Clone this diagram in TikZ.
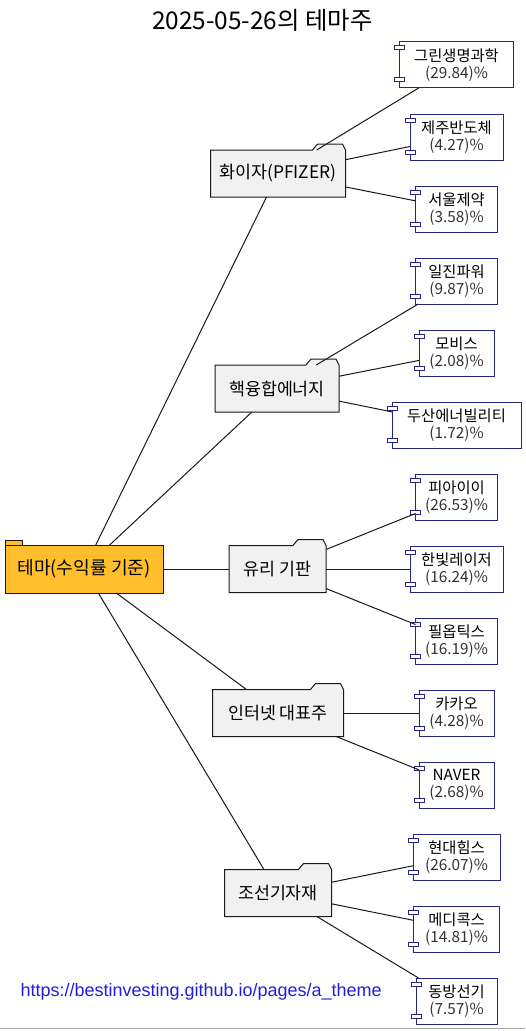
\documentclass[tikz,border=0pt]{standalone}
\usepackage{fontspec}
\setmainfont{Noto Sans CJK KR}
\newfontfamily\urlfont{Liberation Sans}
\usetikzlibrary{calc,backgrounds}
\definecolor{rootfill}{HTML}{FFBF2C}
\definecolor{themefill}{HTML}{F1F1F1}
\definecolor{compline}{HTML}{262680}
\definecolor{urlblue}{HTML}{1E1EDC}
\definecolor{pcttext}{HTML}{333333}
\begin{document}
\begin{tikzpicture}[x=0.75pt, y=-0.75pt, line width=0.75pt,
  base/.style={inner sep=0pt, outer sep=0pt},
  rootbox/.style={base, draw=black!90, fill=rootfill, minimum width={0.75pt*158}, minimum height={0.75pt*48}, font=\fontsize{13.6}{15}\selectfont},
  theme/.style={base, minimum width={0.75pt*#1}, minimum height={0.75pt*47}, font=\fontsize{13}{15}\selectfont},
  comp/.style={base, draw=compline, fill=white, minimum width={0.75pt*#1}, minimum height={0.75pt*46}, align=center, font=\fontsize{11.5}{13}\selectfont},
  edge/.style={draw=black!90, line width=0.75pt},
  folderline/.style={draw=black!90, fill=themefill, line width=0.75pt},
  pinbox/.style={draw=compline, fill=white, line width=0.75pt},
]
\useasboundingbox (0,0) rectangle (525,1031);
\newcommand{\pct}[1]{{\color{pcttext}(#1)\%}}

% title
\node[font=\fontsize{18.3}{22}\selectfont] (title) at (262.5,20) {2025-05-26의 테마주};

% root
\node[rootbox] (root) at (84,569) {테마(수익률 기준)};
\draw[draw=black!90, fill=rootfill] ($(root.north west)+(0,-5)$) rectangle ($(root.north west)+(17,0)$);

% themes
\node[theme=135] (t1) at (278,173.5) {화이자(PFIZER)};
\node[theme=124] (t2) at (277,388.5) {핵융합에너지};
\node[theme=97]  (t3) at (277.5,569) {유리 기판};
\node[theme=131] (t4) at (278,713) {인터넷 대표주};
\node[theme=107] (t5) at (278,893) {조선기자재};

\begin{scope}[on background layer]
\foreach \n in {t1,t2,t3,t4,t5}{
  \filldraw[folderline] (\n.south west) -- (\n.north west) -- ($(\n.north east)+(-33,0)$) -- ++(5,-6) -- ($(\n.north east)+(-3,-6)$) -- (\n.north east) -- (\n.south east) -- cycle;
}
\end{scope}

% components
\node[comp=114] (c1)  at (456.5,65)   {그린생명과학\\\pct{29.84}};
\node[comp=93]  (c2)  at (456.5,137)  {제주반도체\\\pct{4.27}};
\node[comp=82]  (c3)  at (456.5,209)  {서울제약\\\pct{3.58}};
\node[comp=82]  (c4)  at (456.5,281)  {일진파워\\\pct{9.87}};
\node[comp=75]  (c5)  at (456.5,353)  {모비스\\\pct{2.08}};
\node[comp=129] (c6)  at (456.5,425)  {두산에너빌리티\\\pct{1.72}};
\node[comp=82]  (c7)  at (456.5,497)  {피아이이\\\pct{26.53}};
\node[comp=93]  (c8)  at (456.5,569)  {한빛레이저\\\pct{16.24}};
\node[comp=82]  (c9)  at (456.5,641)  {필옵틱스\\\pct{16.19}};
\node[comp=75]  (c10) at (456.5,713)  {카카오\\\pct{4.28}};
\node[comp=75]  (c11) at (456.5,785)  {NAVER\\\pct{2.68}};
\node[comp=87]  (c12) at (456.5,857)  {현대힘스\\\pct{26.07}};
\node[comp=86]  (c13) at (456.5,929)  {메디콕스\\\pct{14.81}};
\node[comp=81]  (c14) at (456.5,1001) {동방선기\\\pct{7.57}};

\foreach \n in {c1,c2,c3,c4,c5,c6,c7,c8,c9,c10,c11,c12,c13,c14}{
  \draw[pinbox] ($(\n.north west)+(-5,4)$) rectangle ++(10,4);
  \draw[pinbox] ($(\n.south west)+(-5,-10)$) rectangle ++(10,4);
}

% edges
\foreach \t in {t1,t2,t3,t4,t5}{ \draw[edge] (root) -- (\t); }
\foreach \a/\b in {t1/c1,t1/c2,t1/c3,t2/c4,t2/c5,t2/c6,t3/c7,t3/c8,t3/c9,t4/c10,t4/c11,t5/c12,t5/c13,t5/c14}{
  \draw[edge] (\a) -- (\b);
}

% url
\node[font=\urlfont\fontsize{13.5}{16}\selectfont, text=urlblue, anchor=west, inner sep=0pt] (url) at (20,992) {https://bestinvesting.github.io/pages/a\_theme};

% bottom rule
\draw[black!35, line width=1.2pt] (0,1028.5) -- (525,1028.5);
\end{tikzpicture}
\end{document}
